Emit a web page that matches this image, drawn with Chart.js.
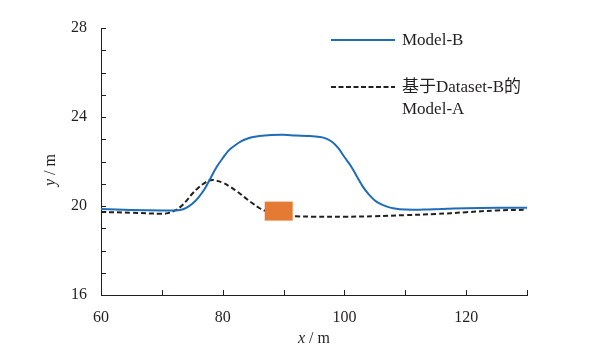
<!DOCTYPE html>
<html>
<head>
<meta charset="utf-8">
<script src="https://cdn.jsdelivr.net/npm/chart.js@4.4.1/dist/chart.umd.min.js"></script>
<style>
    html, body { margin: 0; padding: 0; background: #fff; }
    #chart { display: block; }
</style>
</head>
<body>
<canvas id="chart" width="603" height="354"></canvas>
<script>
// Model-B (solid blue)
const modelBX = [60, 65, 70, 72, 73, 74, 75, 76, 77, 78, 79, 80, 81, 82, 83, 84, 85, 86, 88, 90, 92, 94, 96, 97, 98, 99, 100, 101, 102, 103, 104, 105, 106, 107, 108, 110, 113, 116, 120, 125, 130];
const modelBY = [19.86, 19.82, 19.8, 19.8, 19.82, 19.92, 20.1, 20.38, 20.75, 21.25, 21.75, 22.15, 22.5, 22.72, 22.9, 23.02, 23.1, 23.15, 23.19, 23.2, 23.17, 23.15, 23.1, 23.03, 22.88, 22.6, 22.2, 21.82, 21.35, 20.88, 20.52, 20.25, 20.08, 19.97, 19.9, 19.84, 19.84, 19.87, 19.9, 19.92, 19.92];

// Model-A trained on Dataset-B (dashed black)
const modelAX = [60, 65, 70, 71, 72, 73, 74, 75, 76, 77, 78, 79, 80, 81, 82, 83, 84, 85, 86, 87, 88, 90, 92, 95, 100, 105, 110, 115, 120, 125, 130];
const modelAY = [19.73, 19.7, 19.65, 19.68, 19.78, 19.95, 20.22, 20.55, 20.82, 21.03, 21.16, 21.14, 21.05, 20.9, 20.72, 20.52, 20.3, 20.1, 19.91, 19.78, 19.68, 19.58, 19.54, 19.52, 19.52, 19.54, 19.59, 19.64, 19.72, 19.8, 19.83];

// orange marker block
const markerX = [86.9, 91.5];
const markerY = [19.77, 19.77];

const xTicks = [60, 80, 100, 120];
const yTicks = [16, 20, 24, 28];

const legendLabels = ['Model-B', ['基于Dataset-B的', 'Model-A']];

const blue = 'rgb(30, 108, 186)';
const orange = 'rgb(229, 122, 53)';
const ink = '#231f20';
const serif = "'Liberation Serif', 'Noto Sans CJK SC', serif";

function toPoints(xs, ys) {
    return xs.map((x, i) => ({ x: x, y: ys[i] }));
}

// tick marks drawn inward, plus axis titles and the legend
const decorations = {
    id: 'decorations',
    afterDraw(chart) {
        const ctx = chart.ctx;
        const xs = chart.scales.x;
        const ys = chart.scales.y;
        const area = chart.chartArea;

        ctx.save();
        ctx.strokeStyle = ink;
        ctx.lineWidth = 1;
        ctx.beginPath();
        for (let v = 60; v <= 130; v += 10) {
            const px = Math.round(xs.getPixelForValue(v)) + 0.5;
            ctx.moveTo(px, area.bottom);
            ctx.lineTo(px, area.bottom - 5);
        }
        for (let v = 16; v <= 28; v += 1) {
            const py = Math.round(ys.getPixelForValue(v)) + 0.5;
            ctx.moveTo(area.left, py);
            ctx.lineTo(area.left + 5, py);
        }
        ctx.stroke();

        // x title
        ctx.fillStyle = ink;
        ctx.textBaseline = 'alphabetic';
        const cx = (area.left + area.right) / 2;
        ctx.font = 'italic 16px ' + serif;
        const wx = ctx.measureText('x').width;
        ctx.font = '16px ' + serif;
        const wr = ctx.measureText(' / m').width;
        let sx = cx - (wx + wr) / 2;
        ctx.font = 'italic 16px ' + serif;
        ctx.fillText('x', sx, 343);
        ctx.font = '16px ' + serif;
        ctx.fillText(' / m', sx + wx, 343);

        // y title
        ctx.save();
        ctx.translate(55, 170);
        ctx.rotate(-Math.PI / 2);
        ctx.font = 'italic 16px ' + serif;
        const wy = ctx.measureText('y').width;
        ctx.font = '16px ' + serif;
        const wr2 = ctx.measureText(' / m').width;
        sx = -(wy + wr2) / 2;
        ctx.font = 'italic 16px ' + serif;
        ctx.fillText('y', sx, 0);
        ctx.font = '16px ' + serif;
        ctx.fillText(' / m', sx + wy, 0);
        ctx.restore();

        // legend
        ctx.lineWidth = 2;
        ctx.strokeStyle = blue;
        ctx.beginPath();
        ctx.moveTo(331, 40);
        ctx.lineTo(395, 40);
        ctx.stroke();

        ctx.strokeStyle = ink;
        ctx.setLineDash([5, 2.5]);
        ctx.beginPath();
        ctx.moveTo(331, 87);
        ctx.lineTo(395, 87);
        ctx.stroke();
        ctx.setLineDash([]);

        ctx.font = '17px ' + serif;
        ctx.textBaseline = 'middle';
        ctx.fillText(legendLabels[0], 402, 41);
        ctx.fillText(legendLabels[1][0], 402, 88);
        ctx.fillText(legendLabels[1][1], 402, 110);
        ctx.restore();
    }
};

new Chart(document.getElementById('chart'), {
    type: 'line',
    data: {
        datasets: [
            {
                label: 'marker',
                data: toPoints(markerX, markerY),
                borderColor: orange,
                borderWidth: 19,
                borderCapStyle: 'butt',
                pointRadius: 0,
                fill: false
            },
            {
                label: legendLabels[0],
                data: toPoints(modelBX, modelBY),
                borderColor: blue,
                borderWidth: 2,
                tension: 0.4,
                pointRadius: 0,
                fill: false
            },
            {
                label: legendLabels[1].join(''),
                data: toPoints(modelAX, modelAY),
                borderColor: ink,
                borderWidth: 2,
                borderDash: [5, 3],
                tension: 0.4,
                pointRadius: 0,
                fill: false
            }
        ]
    },
    options: {
        responsive: false,
        animation: false,
        layout: {
            padding: { left: 0, right: 76, top: 28, bottom: 0 }
        },
        plugins: {
            legend: { display: false },
            tooltip: { enabled: false }
        },
        scales: {
            x: {
                type: 'linear',
                min: 60,
                max: 130,
                afterFit: scale => { scale.height = 59; },
                grid: { drawOnChartArea: false, drawTicks: false },
                border: { display: true, color: ink, width: 1 },
                ticks: {
                    stepSize: 10,
                    padding: 13,
                    color: ink,
                    font: { family: serif, size: 16 },
                    callback: v => xTicks.includes(v) ? String(v) : ''
                }
            },
            y: {
                min: 16,
                max: 28,
                afterFit: scale => { scale.width = 101; },
                grid: { drawOnChartArea: false, drawTicks: false },
                border: { display: true, color: ink, width: 1 },
                ticks: {
                    stepSize: 1,
                    padding: 14,
                    autoSkip: false,
                    color: ink,
                    font: { family: serif, size: 16 },
                    callback: v => yTicks.includes(v) ? String(v) : ''
                }
            }
        }
    },
    plugins: [decorations]
});
</script>
</body>
</html>
